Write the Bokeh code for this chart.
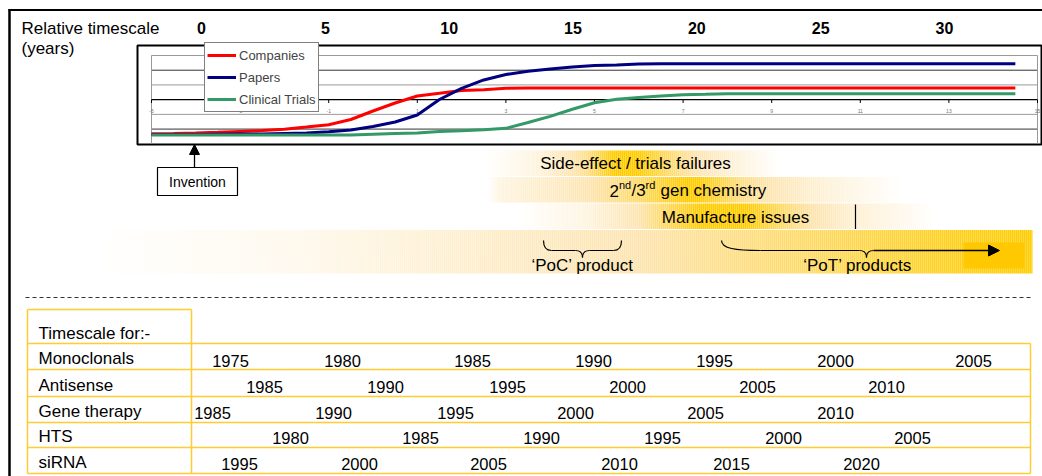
import numpy as np
from bokeh.plotting import figure
from bokeh.models import Range1d, Legend, LegendItem, Arrow, NormalHead
from bokeh.core.properties import value
from bokeh.embed import file_html
from bokeh.resources import INLINE

# ---------------- data ----------------
rel_years = [0, 5, 10, 15, 20, 25, 30]
inner_ticks = [-5, -3, -1, 1, 3, 5, 7, 9, 11, 13, 15]
inner_x = [-5.0, -4.5, -4.0, -3.5, -3.0, -2.5, -2.0, -1.5, -1.0, -0.5,
           0.0, 0.5, 1.0, 1.5, 2.0, 2.5, 3.0, 3.5, 4.0, 4.5,
           5.0, 5.5, 6.0, 6.5, 7.0, 7.5, 8.0, 8.5, 9.0, 9.5,
           10.0, 10.5, 11.0, 11.5, 12.0, 12.5, 13.0, 13.5, 14.0, 14.5]
companies = [0.68, 0.70, 0.73, 0.78, 0.84, 0.90, 0.99, 1.14, 1.30, 1.65,
             2.23, 2.77, 3.25, 3.43, 3.62, 3.68, 3.77, 3.79, 3.79, 3.79,
             3.79, 3.79, 3.79, 3.79, 3.79, 3.79, 3.79, 3.79, 3.79, 3.79,
             3.79, 3.79, 3.79, 3.79, 3.79, 3.79, 3.79, 3.79, 3.79, 3.79]
papers = [0.63, 0.63, 0.63, 0.65, 0.66, 0.67, 0.70, 0.73, 0.82, 0.94,
          1.18, 1.48, 1.96, 3.01, 3.76, 4.34, 4.71, 4.93, 5.08, 5.22,
          5.32, 5.35, 5.42, 5.44, 5.44, 5.44, 5.44, 5.44, 5.44, 5.44,
          5.44, 5.44, 5.44, 5.44, 5.44, 5.44, 5.44, 5.44, 5.44, 5.44]
trials = [0.60, 0.60, 0.60, 0.60, 0.60, 0.60, 0.60, 0.60, 0.60, 0.60,
          0.65, 0.70, 0.73, 0.84, 0.88, 0.95, 1.05, 1.45, 1.86, 2.35,
          2.79, 3.02, 3.15, 3.25, 3.33, 3.36, 3.40, 3.40, 3.40, 3.40,
          3.40, 3.40, 3.40, 3.40, 3.40, 3.40, 3.40, 3.40, 3.40, 3.40]
series_names = ["Companies", "Papers", "Clinical Trials"]

row_names = ["Monoclonals", "Antisense", "Gene therapy", "HTS", "siRNA"]
mono_years = ["1975", "1980", "1985", "1990", "1995", "2000", "2005"]
anti_years = ["1985", "1990", "1995", "2000", "2005", "2010"]
gene_years = ["1985", "1990", "1995", "2000", "2005", "2010"]
hts_years = ["1980", "1985", "1990", "1995", "2000", "2005"]
sirna_years = ["1995", "2000", "2005", "2010", "2015", "2020"]

# ---------------- layout (page pixels) ----------------
W, H = 1042, 476
OX, OY = 0, 0
REL0, REL_PPY = 201.0, (944.0 - 201.0) / 30.0
INX0, INX_PPU = 151.0, (1037.0 - 151.0) / 20.0
INY0, INY_PPU = 143.3, 14.717

FONT = value("Liberation Sans")
TABLE = "#FFCC33"

p = figure(width=W, height=H, output_backend="svg", toolbar_location=None,
           x_axis_type=None, y_axis_type=None, title=None,
           x_range=Range1d(OX, OX + W), y_range=Range1d(OY + H, OY),
           min_border=0, outline_line_color=None)
p.background_fill_color = "white"
p.border_fill_color = "white"
p.extra_x_ranges = {
    "rel": Range1d((OX - REL0) / REL_PPY, (OX + W - REL0) / REL_PPY),
    "inx": Range1d(-5 + (OX - INX0) / INX_PPU, -5 + (OX + W - INX0) / INX_PPU),
}
p.extra_y_ranges = {"iny": Range1d((INY0 - (OY + H)) / INY_PPU, (INY0 - OY) / INY_PPU)}


def txt(xs, ys, ss, size, align="left", bold=False, color="black", **kw):
    p.text(x=xs, y=ys, text=ss, text_font=FONT, text_font_size=value(f"{size}px"),
           text_align=align, text_baseline="middle", text_color=color,
           text_font_style="bold" if bold else "normal", **kw)


C0 = np.array([255, 255, 255])
C1 = np.array([253, 228, 176])
C2 = np.array([255, 204, 0])


def shade(t):
    t = min(max(t, 0.0), 1.0)
    if t < 0.5:
        c = C0 + (C1 - C0) * (t / 0.5)
    else:
        c = C1 + (C2 - C1) * ((t - 0.5) / 0.5)
    return "#%02x%02x%02x" % tuple(int(round(v)) for v in c)


def band(y0, y1, stops, x0, x1, step=2):
    xs = np.arange(x0, x1, step)
    t = np.interp(xs + step / 2.0, [s[0] for s in stops], [s[1] for s in stops])
    p.quad(left=xs, right=np.minimum(xs + step, x1), top=y0, bottom=y1,
           fill_color=[shade(v) for v in t], line_color=None)


# frame lines of the slide
p.segment(x0=[8], y0=[9.5], x1=[W], y1=[9.5], line_color="black", line_width=2)
p.segment(x0=[9], y0=[8.5], x1=[9], y1=[H], line_color="black", line_width=2.5)

# ---------------- top: relative timescale ----------------
txt([21], [28], ["Relative timescale"], 17)
txt([21], [48], ["(years)"], 17)
txt(rel_years, [27] * len(rel_years), [str(v) for v in rel_years], 16, align="center",
    bold=True, x_range_name="rel")

# ---------------- inner chart ----------------
p.quad(left=[137], right=[1041], top=[45], bottom=[144], fill_color="white",
       line_color="black", line_width=2)
grid_y = [1, 2, 4, 5, 6]
grid_c = ["#333333", "#999999", "#999999", "#333333", "#999999"]
p.segment(x0=[-5] * 5, x1=[15] * 5, y0=grid_y, y1=grid_y, line_color=grid_c, line_width=1,
          x_range_name="inx", y_range_name="iny")
p.segment(x0=[-5, 15], x1=[-5, 15], y0=[0, 0], y1=[6, 6], line_color="#999999", line_width=1,
          x_range_name="inx", y_range_name="iny")
p.segment(x0=[-5], x1=[15], y0=[3], y1=[3], line_color="black", line_width=1.2,
          x_range_name="inx", y_range_name="iny")
p.segment(x0=inner_ticks, x1=inner_ticks, y0=[99.3] * len(inner_ticks),
          y1=[102.5] * len(inner_ticks), line_color="black", line_width=1, x_range_name="inx")
txt(inner_ticks, [110] * len(inner_ticks), [str(v) for v in inner_ticks], 5, align="center",
    color="#777777", x_range_name="inx")

colors = ["#FF0000", "#000080", "#339966"]
renderers = []
for ys, c in zip([companies, papers, trials], colors):
    renderers.append(p.line(inner_x, ys, line_color=c, line_width=3,
                            x_range_name="inx", y_range_name="iny"))

legend = Legend(items=[LegendItem(label=n, renderers=[r]) for n, r in zip(series_names, renderers)],
                location=(204 - OX, (OY + H) - 44 - 68), padding=2, spacing=2, label_height=20,
                glyph_height=20, glyph_width=29, label_standoff=3, margin=0,
                label_text_font="Liberation Sans", label_text_font_size="13px",
                border_line_color="black", border_line_width=1.5, background_fill_alpha=1.0)
p.add_layout(legend)

# Invention
p.quad(left=[157], right=[237], top=[167], bottom=[195], fill_color="white",
       line_color="black", line_width=1.2)
txt([197], [181.5], ["Invention"], 14, align="center")
p.add_layout(Arrow(end=NormalHead(size=10, fill_color="black", line_color="black"),
                   x_start=194, y_start=167, x_end=194, y_end=144, line_width=1.3))

# ---------------- gradient bands ----------------
band(150, 175.5, [(485, 0), (535, 0.2), (586, 0.6), (614, 1), (638, 1), (673, 0.65),
                  (725, 0.3), (778, 0)], 485, 778)
band(176.5, 202, [(488, 0), (500, 0.2), (569, 0.42), (638, 0.7), (685, 1), (698, 1),
                  (742, 0.62), (811, 0.3), (900, 0)], 488, 900)
band(203, 228.5, [(520, 0), (586, 0.2), (638, 0.5), (700, 1), (745, 1), (794, 0.62),
                  (846, 0.32), (935, 0)], 520, 935)
band(229.5, 273, [(97, 0), (300, 0.12), (500, 0.35), (620, 0.48), (700, 0.58), (800, 0.7),
                  (900, 0.84), (960, 0.93), (1032, 1.0)], 97, 1032)
p.quad(left=[963], right=[1024], top=[242], bottom=[268], fill_color="#FFC800", line_color=None)
p.segment(x0=[855], x1=[855], y0=[204], y1=[228.5], line_color="black", line_width=1.2)

txt([635], [163], ["Side-effect / trials failures"], 17, align="center")
txt([735], [216.5], ["Manufacture issues"], 17, align="center")
# 2nd/3rd gen chemistry with superscripts
txt([609, 631, 660], [190, 190, 190], ["2", "/3", "gen chemistry"], 17)
txt([618.5, 645], [184.5, 184.5], ["nd", "rd"], 11)

# braces
BR = dict(line_color="black", line_width=1.2)
p.quadratic(x0=[543, 575, 582, 613], y0=[240, 250, 257, 250],
            x1=[551, 582, 589, 621], y1=[250, 257, 250, 240],
            cx=[543, 582, 582, 621], cy=[250, 250, 250, 250], **BR)
p.segment(x0=[551, 589], x1=[575, 613], y0=[250, 250], y1=[250, 250], **BR)
p.bezier(x0=[721], y0=[240], x1=[760], y1=[250], cx0=[721], cy0=[248], cx1=[735], cy1=[250], **BR)
p.segment(x0=[760], x1=[859], y0=[250], y1=[250], **BR)
p.quadratic(x0=[859, 866], y0=[250, 257], x1=[866, 873], y1=[257, 250],
            cx=[866, 866], cy=[250, 250], **BR)
p.add_layout(Arrow(end=NormalHead(size=11, fill_color="black", line_color="black"),
                   x_start=873, y_start=250, x_end=999, y_end=250, line_width=1.3))
txt([582, 857], [265, 265], ["\u2018PoC\u2019 product", "\u2018PoT\u2019 products"], 17, align="center")

# ---------------- separator ----------------
p.segment(x0=[25], x1=[1030], y0=[297], y1=[297], line_color="#333333", line_width=1,
          line_dash="4 3")

# ---------------- table ----------------
row_lines = [343, 369, 396, 422, 447, 473]
p.segment(x0=[27] * 6, x1=[1030] * 6, y0=row_lines, y1=row_lines, line_color=TABLE, line_width=1.5)
p.segment(x0=[27, 27, 191, 1030], x1=[191, 27, 191, 1030], y0=[309, 309, 309, 343],
          y1=[309, 473, 473, 473], line_color=TABLE, line_width=1.5)
txt([38], [333], ["Timescale for:-"], 17)
label_y = [358, 384.5, 410.5, 435.5, 461.5]
txt([38] * 5, label_y, row_names, 17)

year_rows = [mono_years, anti_years, gene_years, hts_years, sirna_years]
year_x = [[230, 342, 472, 593, 714, 835, 973],
          [264, 385, 507, 627, 757, 886],
          [212, 333, 455, 575, 705, 835],
          [290, 420, 541, 662, 783, 912],
          [239, 359, 488, 619, 731, 861]]
for yrs, xs, ly in zip(year_rows, year_x, label_y):
    txt(xs, [ly + 2] * len(xs), yrs, 16.5, align="center")

open("out.html", "w").write(file_html(p, INLINE))
